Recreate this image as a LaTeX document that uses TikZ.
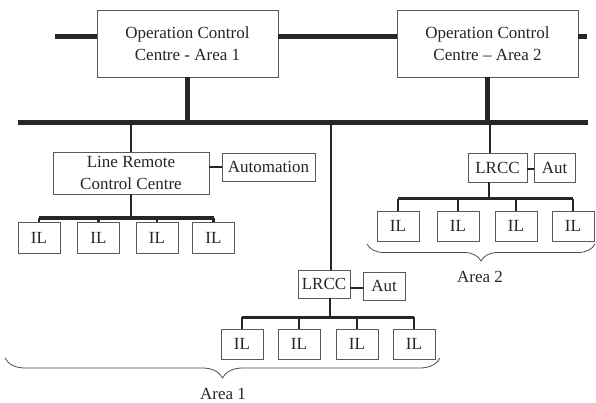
\documentclass[tikz,border=0pt]{standalone}
\usepackage{fontspec}
\setmainfont{Liberation Serif}
\usetikzlibrary{decorations.pathreplacing}
\begin{document}
\begin{tikzpicture}[x=1pt,y=-1pt,
  box/.style={draw=black!65,line width=0.9pt,fill=white,inner sep=0pt,align=center,
    font=\fontsize{17}{22.5}\selectfont,text=black!85},
  bus/.style={line width=5pt,black!85},
  sub/.style={line width=3pt,black!85},
  drop/.style={line width=2.6pt,black!85},
  brc/.style={draw=black!70,line width=0.8pt,decorate,decoration={brace,mirror,amplitude=#1}},
  lbl/.style={font=\fontsize{17}{22}\selectfont,text=black!85}]
\useasboundingbox (0,0) rectangle (596,403);
% top level
\node[box,minimum width=181pt,minimum height=67pt] (occ1) at (187.5,43.5) {Operation Control\\Centre - Area 1};
\node[box,minimum width=181pt,minimum height=67pt] (occ2) at (487.5,43.5) {Operation Control\\Centre -- Area 2};
\coordinate (tbL) at (55,37);
\coordinate (tbR) at (587,37);
\coordinate (mbL) at (18,123);
\coordinate (mbR) at (588,123);
\draw[bus] (tbL) -- (tbL -| occ1.west);
\draw[bus] (occ1.east |- tbL) -- (occ2.west |- tbL);
\draw[bus] (occ2.east |- tbL) -- (tbR);
\draw[bus] (mbL) -- (mbR);
\draw[bus] (occ1.south) -- (occ1.south |- mbL);
\draw[bus] (occ2.south) -- (occ2.south |- mbL);
% area 1 upper
\node[box,minimum width=156pt,minimum height=42pt] (lrc) at (131,173) {Line Remote\\Control Centre};
\node[box,minimum width=93pt,minimum height=28pt] (auto) at (268.5,167) {Automation};
\draw[drop,line width=2pt] (lrc.north |- mbL) -- (lrc.north);
\draw[drop] (auto.west) -- (auto.west -| lrc.east);
\coordinate (sb1) at (130,218);
\foreach \i/\x in {1/39,2/98.5,3/157,4/213.5}{
  \node[box,minimum width=42pt,minimum height=31pt] (ila\i) at (\x,237.5) {IL};
  \draw[drop] (ila\i.north |- sb1) -- (ila\i.north);
}
\draw[drop] (lrc.south) -- (lrc.south |- sb1);
\draw[sub] (ila1.north |- sb1) -- (ila4.north |- sb1);
% area 1 lower
\node[box,minimum width=52pt,minimum height=28pt] (lrcc1) at (324,284) {LRCC};
\node[box,minimum width=42pt,minimum height=28pt] (aut1) at (384,286) {Aut};
\coordinate (d1) at (331,123);
\coordinate (sb2) at (330,317);
\draw[drop] (d1) -- (d1 |- lrcc1.north);
\draw[drop] (aut1.west |- 0,288) -- (lrcc1.east |- 0,288);
\foreach \i/\x in {1/242,2/299,3/357,4/414}{
  \node[box,minimum width=42pt,minimum height=30pt] (ilb\i) at (\x,344) {IL};
  \draw[drop] (ilb\i.north |- sb2) -- (ilb\i.north);
}
\draw[drop] (sb2 |- lrcc1.south) -- (sb2);
\draw[sub] (ilb1.north |- sb2) -- (ilb4.north |- sb2);
% area 2
\node[box,minimum width=59pt,minimum height=29pt] (lrcc2) at (497.5,167.5) {LRCC};
\node[box,minimum width=41pt,minimum height=29pt] (aut2) at (554.5,167.5) {Aut};
\coordinate (d2) at (490,123);
\coordinate (sb3) at (489,199);
\draw[drop] (d2) -- (d2 |- lrcc2.north);
\draw[drop] (aut2.west |- 0,169) -- (lrcc2.east |- 0,169);
\foreach \i/\x in {1/398,2/458,3/516,4/573}{
  \node[box,minimum width=42pt,minimum height=30pt] (ilc\i) at (\x,226) {IL};
  \draw[drop] (ilc\i.north |- sb3) -- (ilc\i.north);
}
\draw[drop] (sb3 |- lrcc2.south) -- (sb3);
\draw[sub] (ilc1.north |- sb3) -- (ilc4.north |- sb3);
% braces
\coordinate (b2a) at (367,244);
\coordinate (b2b) at (595,244);
\draw[brc=17pt] (b2a) -- (b2b);
\node[lbl] (a2) at (480,277) {Area 2};
\coordinate (b1a) at (5,358);
\coordinate (b1b) at (440,358);
\draw[brc=20pt] (b1a) -- (b1b);
\node[lbl] (a1) at (223,394) {Area 1};
\end{tikzpicture}
\end{document}
